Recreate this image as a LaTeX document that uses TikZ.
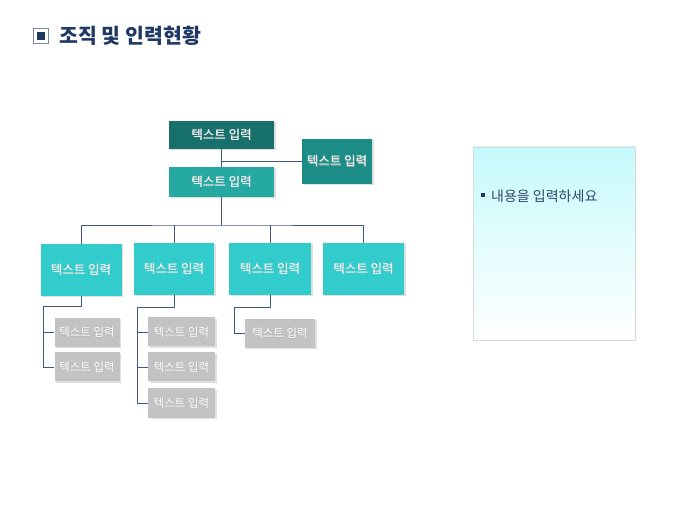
\documentclass[tikz,border=0pt]{standalone}
\usepackage{fontspec}
\setmainfont{Noto Sans CJK KR}
\usepackage{tikz}
\usetikzlibrary{shadows}

\definecolor{navy}{HTML}{1F3864}
\definecolor{linec}{HTML}{435A7E}
\definecolor{tealA}{HTML}{17706B}
\definecolor{tealB}{HTML}{1C8C87}
\definecolor{tealC}{HTML}{26A9A3}
\definecolor{tealD}{HTML}{33CCCC}
\definecolor{grayE}{HTML}{C3C3C3}
\definecolor{paneltop}{HTML}{C6FAFC}

% white label with a dark offset copy
\newcommand{\shtxt}[1]{\makebox[0pt][l]{\hspace{0.6pt}\raisebox{-0.6pt}{\textcolor{black!30}{#1}}}#1}

\tikzset{
    orgbox/.style={draw=none, text=white, font=\fontsize{12.5}{14}\selectfont,
        inner sep=0pt, drop shadow={shadow xshift=1.5pt, shadow yshift=-1.5pt, opacity=0.25}},
    subbox/.style={orgbox, fill=grayE, minimum width=65pt, minimum height=29pt,
        font=\fontsize{11.5}{13}\selectfont},
    link/.style={linec, line width=0.8pt}
}

\begin{document}
\begin{tikzpicture}[x=1pt, y=-1pt]
    \useasboundingbox (0,0) rectangle (680,510);

    % Title
    \draw[linec!70, line width=0.8pt] (33.5,28.5) rectangle (48.5,43.5);
    \fill[navy] (37,32) rectangle (45,40);
    \node[anchor=west, text=navy, font=\fontsize{20.5}{24}\bfseries] (title) at (56,36) {조직 및 인력현황};

    % Top levels
    \node[orgbox, fill=tealA, minimum width=105pt, minimum height=28pt] (top) at (221.5,135) {\shtxt{텍스트 입력}};
    \node[orgbox, fill=tealB, minimum width=70pt, minimum height=45pt] (side) at (337,161.5) {\shtxt{텍스트 입력}};
    \node[orgbox, fill=tealC, minimum width=105pt, minimum height=30pt] (mid) at (221.5,182) {\shtxt{텍스트 입력}};

    % Second level
    \node[orgbox, fill=tealD, minimum width=81pt, minimum height=52pt] (b1) at (81,270) {\shtxt{텍스트 입력}};
    \node[orgbox, fill=tealD, minimum width=80pt, minimum height=52pt] (b2) at (174,269) {\shtxt{텍스트 입력}};
    \node[orgbox, fill=tealD, minimum width=82pt, minimum height=52pt] (b3) at (270,269) {\shtxt{텍스트 입력}};
    \node[orgbox, fill=tealD, minimum width=81pt, minimum height=52pt] (b4) at (363.5,269) {\shtxt{텍스트 입력}};

    % Third level
    \node[subbox] (c11) at (87,332.5) {\shtxt{텍스트 입력}};
    \node[subbox] (c12) at (87,367) {\shtxt{텍스트 입력}};
    \node[subbox, minimum width=67pt] (c21) at (181.5,332) {\shtxt{텍스트 입력}};
    \node[subbox, minimum width=67pt] (c22) at (181.5,367) {\shtxt{텍스트 입력}};
    \node[subbox, minimum width=67pt] (c23) at (181.5,403) {\shtxt{텍스트 입력}};
    \node[subbox, minimum width=70pt] (c31) at (280,333.5) {\shtxt{텍스트 입력}};

    % Connectors
    \coordinate (j) at (221.5,161.5);
    \coordinate (bus) at (221.5,225);
    \draw[link] (top.south) -- (mid.north);
    \draw[link] (j) -- (side.west);
    \draw[link] (mid.south) -- (bus);
    \draw[link] (b1.north) |- (bus) -| (b4.north);
    \draw[link] (b2.north) -- (b2.north |- bus);
    \draw[link] (b3.north) -- (b3.north |- bus);

    \coordinate (t1) at (43,306);
    \draw[link] (b1.south) |- (t1) |- (c12.west);
    \draw[link] (t1 |- c11.west) -- (c11.west);

    \coordinate (t2) at (137,307);
    \draw[link] (b2.south) |- (t2) |- (c23.west);
    \draw[link] (t2 |- c21.west) -- (c21.west);
    \draw[link] (t2 |- c22.west) -- (c22.west);

    \coordinate (t3) at (234,307);
    \draw[link] (b3.south) |- (t3) |- (c31.west);

    % Note panel
    \shade[top color=paneltop, bottom color=white, draw=black!15, line width=0.8pt]
        (473,147) rectangle (635,340);
    \fill[navy] (481,193) rectangle (485,197);
    \node[anchor=west, text=navy!80!gray, font=\fontsize{14}{16}\selectfont, inner sep=0pt] (note) at (491,196) {내용을 입력하세요};
\end{tikzpicture}
\end{document}
